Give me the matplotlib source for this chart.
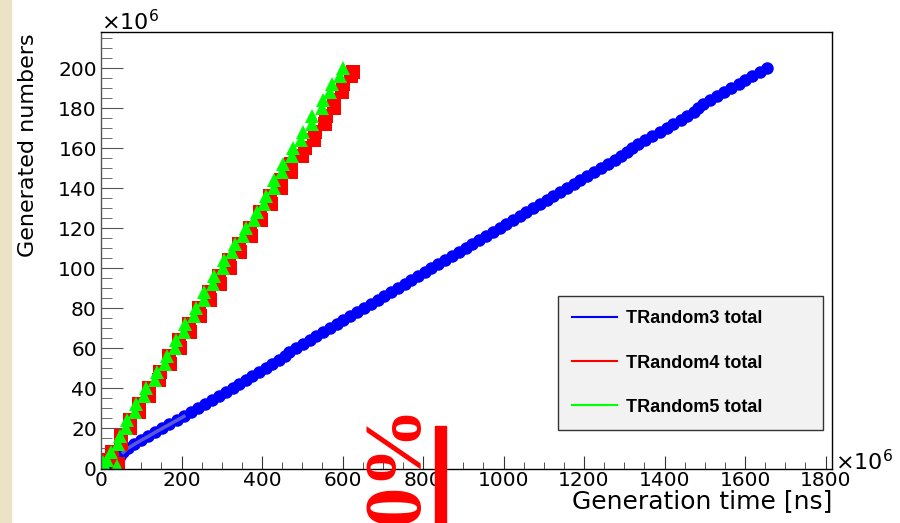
import matplotlib
matplotlib.use("Agg")
import matplotlib.pyplot as plt
from matplotlib.lines import Line2D
from matplotlib.patches import Rectangle
from matplotlib.ticker import MultipleLocator

# both axes in units of 1e6 (generation time in ns, generated numbers)
T3_TIME = [10, 22, 36, 46, 55, 66, 82, 99, 117, 134, 152, 170, 188, 206, 224, 241,
           259, 276, 293, 310, 327, 344, 360, 376, 393, 409, 425, 441, 456, 466, 484,
           501, 518, 535, 552, 569, 586, 602, 619, 636, 653, 670, 687, 703, 720, 737,
           754, 771, 788, 805, 821, 838, 855, 872, 889, 906, 922, 939, 956, 973, 990,
           1006, 1023, 1040, 1057, 1074, 1091, 1108, 1124, 1141, 1158, 1175, 1191,
           1208, 1225, 1242, 1259, 1276, 1293, 1306, 1318, 1333, 1352, 1370, 1388,
           1405, 1422, 1440, 1457, 1472, 1484, 1496, 1512, 1530, 1548, 1566, 1584,
           1601, 1618, 1636, 1655]
T3_COUNT = [1, 2, 4, 6, 8, 10, 12, 14, 16, 18, 20, 22, 24, 26, 28, 30, 32, 34, 36,
            38, 40, 42, 44, 46, 48, 50, 52, 54, 56, 58, 60, 62, 64, 66, 68, 70, 72,
            74, 76, 78, 80, 82, 84, 86, 88, 90, 92, 94, 96, 98, 100, 102, 104, 106,
            108, 110, 112, 114, 116, 118, 120, 122, 124, 126, 128, 130, 132, 134,
            136, 138, 140, 142, 144, 146, 148, 150, 152, 154, 156, 158, 160, 162,
            164, 166, 168, 170, 172, 174, 176, 178, 180, 182, 184, 186, 188, 190,
            192, 194, 196, 198, 200]

T4_TIME = [3, 42, 22, 28, 50, 50, 72, 72, 95, 94, 120, 120, 145, 146, 172, 170, 196,
           194, 220, 218, 246, 244, 272, 268, 296, 292, 320, 318, 346, 344, 372, 370,
           398, 396, 422, 420, 446, 446, 472, 472, 500, 506, 530, 532, 556, 560, 580,
           580, 598, 600, 622, 626]
T4_COUNT = [4, 2, 4, 8, 12, 16, 20, 24, 28, 32, 36, 40, 44, 48, 52, 56, 60, 64, 68,
            72, 76, 80, 84, 88, 92, 96, 100, 104, 108, 112, 116, 120, 124, 128, 132,
            136, 140, 144, 148, 152, 156, 160, 164, 168, 172, 176, 180, 184, 188,
            192, 196, 198]

T5_TIME = [5, 40, 15, 24, 42, 46, 62, 64, 84, 87, 108, 113, 134, 139, 160, 163, 184,
           187, 207, 209, 231, 235, 256, 257, 278, 281, 302, 305, 326, 333, 354, 359,
           381, 387, 406, 409, 430, 429, 450, 453, 474, 477, 498, 501, 524, 525, 549,
           551, 570, 573, 594, 600]
T5_COUNT = [3, 1, 4, 8, 12, 16, 20, 24, 28, 32, 36, 40, 44, 48, 52, 56, 60, 64, 68,
            72, 76, 80, 84, 88, 92, 96, 100, 104, 108, 112, 116, 120, 124, 128, 132,
            136, 140, 144, 148, 152, 156, 160, 164, 168, 172, 176, 180, 184, 188,
            192, 196, 200]

LABELS = ["TRandom3 total", "TRandom4 total", "TRandom5 total"]
BLUE, RED, GREEN = "#0000ff", "#ff0000", "#00ff00"
BEIGE = "#ece3c6"

plt.rcParams.update({"font.family": "DejaVu Sans", "axes.linewidth": 1.0})

W, H = 900, 523
fig = plt.figure(figsize=(W / 100, H / 100), dpi=100)
fig.patches.append(Rectangle((0, 0), 11 / W, 1, transform=fig.transFigure,
                             color=BEIGE, zorder=0))
ax = fig.add_axes([101 / W, 1 - 468.5 / H, 731 / W, 436.5 / H])

ax.plot(T3_TIME, T3_COUNT, "o", color=BLUE, ms=9, mew=0)
ax.plot(T3_TIME[4:14], T3_COUNT[4:14], color="#5a5ad6", lw=2.5)
ax.plot(T4_TIME, T4_COUNT, "s", color=RED, ms=9.5, mew=0)
ax.plot(T5_TIME, T5_COUNT, "^", color=GREEN, ms=10, mew=0)

ax.set_xlim(0, 1816)
ax.set_ylim(0, 218)
ax.xaxis.set_major_locator(MultipleLocator(200))
ax.xaxis.set_minor_locator(MultipleLocator(50))
ax.yaxis.set_major_locator(MultipleLocator(20))
ax.yaxis.set_minor_locator(MultipleLocator(5))
ax.tick_params(axis="y", which="major", direction="in", length=16, color="#555",
               pad=3, labelsize=14.5)
ax.tick_params(axis="y", which="minor", direction="in", length=8, color="#555")
ax.tick_params(axis="x", which="major", direction="in", length=9.5, color="#333",
               pad=2, labelsize=14.5)
ax.tick_params(axis="x", which="minor", direction="in", length=5, color="#333")
ax.spines["left"].set_color("#555")

handles = [Line2D([], [], color=c, lw=1.5) for c in (BLUE, RED, GREEN)]
leg = ax.legend(handles, LABELS, loc="lower left",
                bbox_to_anchor=(0.625, 0.088, 0.363, 0.314), mode="expand",
                borderaxespad=0, fancybox=False, framealpha=1, facecolor="#f2f2f2",
                edgecolor="#333", handlelength=2.5, handletextpad=0.5,
                labelspacing=1.5, borderpad=0.8,
                prop={"family": "Liberation Sans", "weight": "bold", "size": 13})
leg.get_frame().set_linewidth(1.0)

fig.text(101 / W, 1 - 30 / H, r"$\times10^{6}$", size=16, ha="left", va="baseline")
fig.text(835 / W, 1 - 470 / H, r"$\times10^{6}$", size=16, ha="left", va="baseline")
fig.text(28 / W, 1 - 33 / H, "Generated numbers", rotation=90, ha="center",
         va="top", size=16)
fig.text(832 / W, 1 - 508 / H, "Generation time [ns]", ha="right", va="baseline",
         size=18)

# red overlay from the slide
fig.text(418 / W, -1 / H, "0%", rotation=90, rotation_mode="anchor", ha="left",
         va="baseline", color=RED, family="Liberation Serif", weight="bold", size=58)
fig.patches.append(Rectangle((435 / W, 0), 11 / W, (H - 426) / H,
                             transform=fig.transFigure, color=RED, zorder=5))

fig.savefig("out.png", dpi=100)
